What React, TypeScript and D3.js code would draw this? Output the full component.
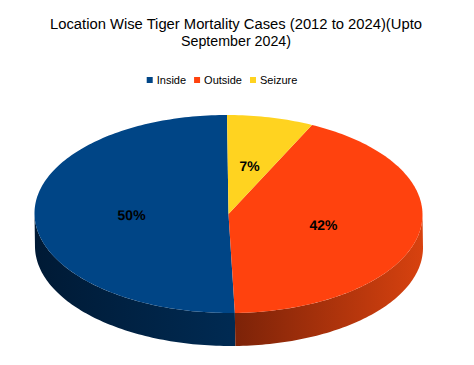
import React, { useEffect, useRef } from 'react';
import * as d3 from 'd3';

const categories = ['Inside', 'Outside', 'Seizure'];
const shares = [50.4, 42.4, 7.2];
const topColors = ['#004586', '#ff420e', '#ffd320'];
const sideColors: [string, string][] = [
  ['#001a35', '#002a52'],
  ['#7a2208', '#d8420f'],
  ['#b89400', '#e0b800'],
];
const titleLines = ['Location Wise Tiger Mortality Cases (2012 to 2024)(Upto', 'September 2024)'];
const titleWidths = [372, 110];

const W = 474;
const H = 365;

const App: React.FC = () => {
  const svgRef = useRef<SVGSVGElement>(null);

  useEffect(() => {
    if (!svgRef.current) return;
    const svg = d3.select(svgRef.current);
    svg.selectAll('*').remove();

    svg.append('rect').attr('width', W).attr('height', H).attr('fill', '#ffffff');

    // Title
    svg.append('g')
      .selectAll('text')
      .data(titleLines)
      .enter()
      .append('text')
      .attr('x', 236)
      .attr('y', (_, i) => 29 + i * 17)
      .attr('text-anchor', 'middle')
      .attr('font-family', 'Liberation Sans, Arial, sans-serif')
      .attr('font-size', '14px')
      .attr('textLength', (_, i) => titleWidths[i])
      .attr('lengthAdjust', 'spacingAndGlyphs')
      .attr('fill', '#000')
      .text(d => d);

    // Legend
    const legend = svg.append('g');
    let lx = 0;
    categories.forEach((name, i) => {
      const item = legend.append('g').attr('transform', `translate(${lx},0)`);
      item.append('rect').attr('x', 0).attr('y', -3).attr('width', 6).attr('height', 6).attr('fill', topColors[i]);
      const t = item.append('text')
        .attr('x', 10)
        .attr('y', 0)
        .attr('dy', '0.35em')
        .attr('font-family', 'Liberation Sans, Arial, sans-serif')
        .attr('font-size', '11px')
        .attr('fill', '#000')
        .text(name);
      const w = (t.node() as SVGTextElement).getComputedTextLength();
      lx += 10 + w + 8;
    });
    const legendWidth = lx - 8;
    legend.attr('transform', `translate(${222 - legendWidth / 2},80)`);

    // 3D pie
    const cx = 228.5, cy = 214, rx = 194, ry = 99, depth = 33;
    const shear = 0.015;
    const pie = d3.pie<number>().sort(null).startAngle(0).endAngle(-2 * Math.PI);
    const arcs = pie(shares);

    const pt = (a: number, dy = 0): [number, number] => [cx + rx * Math.sin(a), cy - ry * Math.cos(a) + dy];
    const sample = (a0: number, a1: number, dy = 0) => {
      const n = Math.max(2, Math.ceil(Math.abs(a1 - a0) / 0.02));
      return d3.range(n + 1).map(i => pt(a0 + ((a1 - a0) * i) / n, dy));
    };

    const pieG = svg.append('g')
      .attr('transform', `matrix(1 0 ${shear} 1 ${-shear * cy} 0)`);
    const defs = svg.append('defs');

    // side walls
    arcs.forEach((arc, i) => {
      const lo = Math.min(arc.startAngle, arc.endAngle);
      const hi = Math.max(arc.startAngle, arc.endAngle);
      for (let k = -3; k <= 2; k++) {
        const f0 = Math.PI / 2 + 2 * Math.PI * k;
        const f1 = (3 * Math.PI) / 2 + 2 * Math.PI * k;
        const a0 = Math.max(lo, f0);
        const a1 = Math.min(hi, f1);
        if (a1 - a0 <= 1e-6) continue;
        const top = sample(a0, a1);
        const bottom = sample(a1, a0, depth);
        const xs = top.map(p => p[0]);
        const gid = `side-${i}-${k + 3}`;
        const grad = defs.append('linearGradient')
          .attr('id', gid)
          .attr('gradientUnits', 'userSpaceOnUse')
          .attr('x1', cx).attr('y1', 0)
          .attr('x2', Math.abs(d3.min(xs)! - cx) > Math.abs(d3.max(xs)! - cx) ? d3.min(xs)! : d3.max(xs)!)
          .attr('y2', 0);
        grad.append('stop').attr('offset', '0%').attr('stop-color', i === 0 ? sideColors[i][1] : sideColors[i][0]);
        grad.append('stop').attr('offset', '100%').attr('stop-color', i === 0 ? sideColors[i][0] : sideColors[i][1]);
        pieG.append('path')
          .attr('d', 'M' + top.concat(bottom).map(p => p.join(',')).join('L') + 'Z')
          .attr('fill', `url(#${gid})`);
      }
    });

    // top faces
    arcs.forEach((arc, i) => {
      const pts = sample(arc.startAngle, arc.endAngle);
      pieG.append('path')
        .attr('d', `M${cx},${cy}L` + pts.map(p => p.join(',')).join('L') + 'Z')
        .attr('fill', topColors[i]);
    });

    // labels
    pieG.selectAll('.lbl')
      .data(arcs)
      .enter()
      .append('text')
      .attr('class', 'lbl')
      .attr('x', d => cx + rx * 0.5 * Math.sin((d.startAngle + d.endAngle) / 2))
      .attr('y', d => cy - ry * 0.5 * Math.cos((d.startAngle + d.endAngle) / 2))
      .attr('dy', '0.36em')
      .attr('text-anchor', 'middle')
      .attr('font-family', 'Liberation Sans, Arial, sans-serif')
      .attr('font-size', '14px')
      .attr('font-weight', 'bold')
      .attr('fill', '#000')
      .text(d => `${Math.round(d.value)}%`);
  }, []);

  return (
    <svg
      ref={svgRef}
      width={W}
      height={H}
      style={{ position: 'absolute', left: 0, top: 0, display: 'block' }}
    />
  );
};

export default App;
